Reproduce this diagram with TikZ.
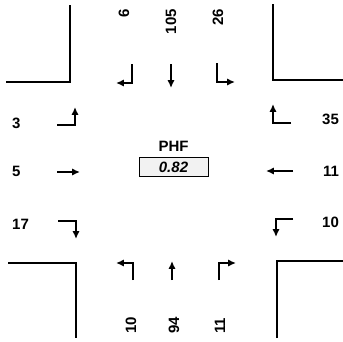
\documentclass[tikz,border=0pt]{standalone}
\usepackage{fontspec}
\setmainfont{Liberation Sans}
\usepackage{tikz}
\usetikzlibrary{
  arrows.meta,
  positioning
}
\definecolor{curbcolor}{RGB}{0, 0, 0}
\definecolor{boxfill}{RGB}{242, 242, 242}
\tikzset{
curb/.style={
  draw=curbcolor,
  line width=2.2pt,
  line join=miter
},
mvmt/.style={
  -{Latex[length=2.8mm,width=2.6mm]},
  line width=1.8pt,
  draw=curbcolor
},
vol/.style={
  font=\fontsize{15}{17}\selectfont\bfseries,
  inner sep=0pt
},
vertvol/.style={
  vol,
  rotate=90
},
phfbox/.style={
  draw,
  line width=0.9pt,
  fill=boxfill,
  minimum width=69pt,
  minimum height=19pt,
  inner sep=0pt,
  font=\fontsize{15}{17}\selectfont\bfseries\itshape
}
}

\begin{document}
\begin{tikzpicture}[x=1pt,y=-1pt]
  \useasboundingbox (0,0) rectangle (343,341);

  % corners of the intersection
  \draw[curb] (6,82) -- (70,82) -- (70,5);
  \draw[curb] (273,4) -- (273,80) -- (343,80);
  \draw[curb] (8,263) -- (76,263) -- (76,338);
  \draw[curb] (277,338) -- (277,261) -- (343,261);

  % southbound
  \node[vertvol, anchor=east] (sbL) at (124,9) {6};
  \node[vertvol, anchor=east] (sbT) at (171,9) {105};
  \node[vertvol, anchor=east] (sbR) at (218,9) {26};
  \draw[mvmt] (132,64) -- (132,83) -- (116,83);
  \draw[mvmt] (171,64) -- (171,88);
  \draw[mvmt] (217,63) -- (217,82) -- (235,82);

  % northbound
  \node[vertvol, anchor=west] (nbL) at (131,334) {10};
  \node[vertvol, anchor=west] (nbT) at (174,334) {94};
  \node[vertvol, anchor=west] (nbR) at (220,334) {11};
  \draw[mvmt] (133,280) -- (133,263) -- (116,263);
  \draw[mvmt] (172,280) -- (172,261);
  \draw[mvmt] (219,280) -- (219,263) -- (236,263);

  % eastbound
  \node[vol, anchor=west] (ebL) at (12,123) {3};
  \node[vol, anchor=west] (ebT) at (12,171) {5};
  \node[vol, anchor=west] (ebR) at (12,224) {17};
  \draw[mvmt] (57,125) -- (75,125) -- (75,107);
  \draw[mvmt] (57,172) -- (80,172);
  \draw[mvmt] (58,221) -- (76,221) -- (76,239);

  % westbound
  \node[vol, anchor=west] (wbL) at (322,119) {35};
  \node[vol, anchor=west] (wbT) at (323,171) {11};
  \node[vol, anchor=west] (wbR) at (322,222) {10};
  \draw[mvmt] (291,123) -- (273,123) -- (273,104);
  \draw[mvmt] (293,171) -- (266,171);
  \draw[mvmt] (293,219) -- (276,219) -- (276,237);

  % peak hour factor
  \node[phfbox] (phf) at (173.5,167) {0.82};
  \node[vol, above=5pt of phf] (phflbl) {PHF};
\end{tikzpicture}
\end{document}
